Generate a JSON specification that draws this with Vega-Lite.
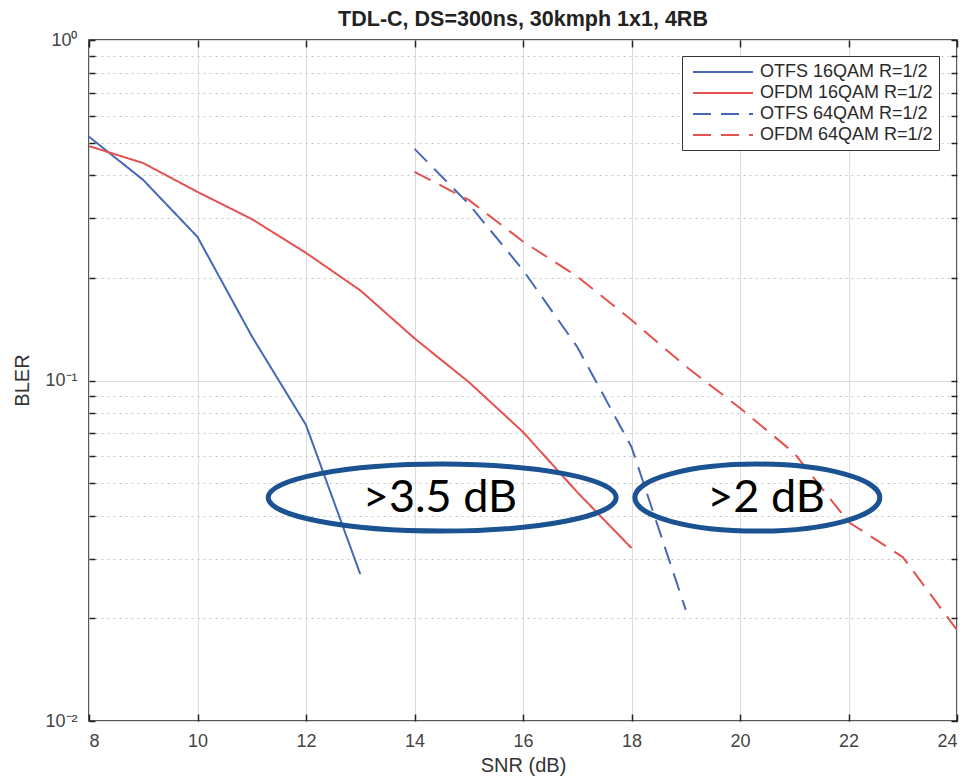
{
  "$schema": "https://vega.github.io/schema/vega-lite/v6.json",
  "width": 868,
  "height": 681,
  "autosize": {"type": "none"},
  "padding": {"left": 89, "top": 40, "right": 16, "bottom": 60},
  "background": "white",
  "title": {"text": "TDL-C, DS=300ns, 30kmph 1x1, 4RB", "fontSize": 21.5, "fontWeight": "bold", "font": "Liberation Sans", "color": "#222", "offset": 12, "dy": 11, "anchor": "middle"},
  "config": {
    "view": {"stroke": "#222", "strokeWidth": 1.5},
    "axis": {"labelFont": "Liberation Sans", "labelFontSize": 18, "labelColor": "#444", "titleFont": "Liberation Sans", "titleFontSize": 20, "titleFontWeight": "normal", "titleColor": "#333", "tickColor": "#222", "tickWidth": 1.5, "domain": false, "gridColor": "#dcdcdc", "gridWidth": 1},
    "legend": {"orient": "none", "legendX": 593, "legendY": 16, "labelFont": "Liberation Sans", "labelFontSize": 18, "labelColor": "#2a2a2a", "labelLimit": 400, "symbolType": "M-3.333,0L3.333,0", "symbolSize": 324, "symbolStrokeWidth": 2, "strokeColor": "#333", "fillColor": "white", "padding": 6, "rowPadding": 2, "labelOffset": 27, "symbolOffset": 25}
  },
  "datasets": {
    "curves": [
      {"series": "OTFS 16QAM R=1/2", "snr": 8, "bler": 0.52},
      {"series": "OTFS 16QAM R=1/2", "snr": 9, "bler": 0.388},
      {"series": "OTFS 16QAM R=1/2", "snr": 10, "bler": 0.264},
      {"series": "OTFS 16QAM R=1/2", "snr": 11, "bler": 0.135},
      {"series": "OTFS 16QAM R=1/2", "snr": 12, "bler": 0.074},
      {"series": "OTFS 16QAM R=1/2", "snr": 13, "bler": 0.027},
      {"series": "OFDM 16QAM R=1/2", "snr": 8, "bler": 0.488},
      {"series": "OFDM 16QAM R=1/2", "snr": 9, "bler": 0.435},
      {"series": "OFDM 16QAM R=1/2", "snr": 10, "bler": 0.358},
      {"series": "OFDM 16QAM R=1/2", "snr": 11, "bler": 0.298},
      {"series": "OFDM 16QAM R=1/2", "snr": 12, "bler": 0.237},
      {"series": "OFDM 16QAM R=1/2", "snr": 13, "bler": 0.184},
      {"series": "OFDM 16QAM R=1/2", "snr": 14, "bler": 0.133},
      {"series": "OFDM 16QAM R=1/2", "snr": 15, "bler": 0.099},
      {"series": "OFDM 16QAM R=1/2", "snr": 16, "bler": 0.0706},
      {"series": "OFDM 16QAM R=1/2", "snr": 17, "bler": 0.047},
      {"series": "OFDM 16QAM R=1/2", "snr": 18, "bler": 0.0322},
      {"series": "OTFS 64QAM R=1/2", "snr": 14, "bler": 0.479},
      {"series": "OTFS 64QAM R=1/2", "snr": 15, "bler": 0.33},
      {"series": "OTFS 64QAM R=1/2", "snr": 16, "bler": 0.211},
      {"series": "OTFS 64QAM R=1/2", "snr": 17, "bler": 0.1255},
      {"series": "OTFS 64QAM R=1/2", "snr": 18, "bler": 0.0638},
      {"series": "OTFS 64QAM R=1/2", "snr": 19, "bler": 0.0212},
      {"series": "OFDM 64QAM R=1/2", "snr": 14, "bler": 0.41},
      {"series": "OFDM 64QAM R=1/2", "snr": 15, "bler": 0.339},
      {"series": "OFDM 64QAM R=1/2", "snr": 16, "bler": 0.256},
      {"series": "OFDM 64QAM R=1/2", "snr": 17, "bler": 0.202},
      {"series": "OFDM 64QAM R=1/2", "snr": 18, "bler": 0.1506},
      {"series": "OFDM 64QAM R=1/2", "snr": 19, "bler": 0.11},
      {"series": "OFDM 64QAM R=1/2", "snr": 20, "bler": 0.083},
      {"series": "OFDM 64QAM R=1/2", "snr": 21, "bler": 0.0612},
      {"series": "OFDM 64QAM R=1/2", "snr": 22, "bler": 0.0384},
      {"series": "OFDM 64QAM R=1/2", "snr": 23, "bler": 0.0303},
      {"series": "OFDM 64QAM R=1/2", "snr": 24, "bler": 0.0185}
    ],
    "notes": [
      {"label": ">3.5 dB", "ex": 14.51, "tx": 14.47, "bler": 0.0453},
      {"label": ">2 dB", "ex": 20.32, "tx": 20.48, "bler": 0.0453}
    ]
  },
  "layer": [
    {
      "data": {"name": "curves"},
      "mark": {"type": "line", "strokeWidth": 2, "clip": true},
      "encoding": {
        "x": {"field": "snr", "type": "quantitative", "scale": {"domain": [8, 24], "nice": false, "zero": false},
          "axis": {"orient": "bottom", "values": [8, 10, 12, 14, 16, 18, 20, 22, 24], "grid": true, "tickSize": -7, "labelPadding": 18, "title": "SNR (dB)", "titleX": 434, "titleY": 44, "titleBaseline": "middle"}},
        "y": {"field": "bler", "type": "quantitative", "scale": {"type": "log", "domain": [0.01, 1], "nice": false},
          "axis": {"orient": "left", "values": [0.01, 0.02, 0.03, 0.04, 0.05, 0.06, 0.07, 0.08, 0.09, 0.1, 0.2, 0.3, 0.4, 0.5, 0.6, 0.7, 0.8, 0.9, 1],
            "labelExpr": "abs(datum.value-1)<1e-9 ? '10⁰' : abs(datum.value-0.1)<1e-9 ? '10⁻¹' : abs(datum.value-0.01)<1e-9 ? '10⁻²' : ''",
            "grid": true,
            "gridDash": {"condition": {"test": "abs(log(datum.value)/LN10 - round(log(datum.value)/LN10)) < 0.001", "value": []}, "value": [2, 4]},
            "gridColor": {"condition": {"test": "abs(log(datum.value)/LN10 - round(log(datum.value)/LN10)) < 0.001", "value": "#dcdcdc"}, "value": "#c4c4c4"},
            "tickSize": -6, "labelPadding": 18, "title": "BLER", "titleX": -67, "titleY": 340, "titleBaseline": "middle"}},
        "color": {"field": "series", "type": "nominal", "scale": {"domain": ["OTFS 16QAM R=1/2", "OFDM 16QAM R=1/2", "OTFS 64QAM R=1/2", "OFDM 64QAM R=1/2"], "range": ["#4767b7", "#e3524e", "#4767b7", "#e3524e"]}, "legend": {"title": null}},
        "strokeDash": {"field": "series", "type": "nominal", "scale": {"domain": ["OTFS 16QAM R=1/2", "OFDM 16QAM R=1/2", "OTFS 64QAM R=1/2", "OFDM 64QAM R=1/2"], "range": [[1, 0], [1, 0], [18, 10], [18, 10]]}, "legend": {"title": null}}
      }
    },
    {
      "data": {"name": "notes"},
      "mark": {"type": "point", "filled": false, "strokeWidth": 5, "color": "#1b5292", "opacity": 1},
      "encoding": {
        "x": {"field": "ex", "type": "quantitative", "axis": {"orient": "top", "values": [8, 10, 12, 14, 16, 18, 20, 22, 24], "labels": false, "grid": false, "tickSize": -7, "title": null}},
        "y": {"field": "bler", "type": "quantitative", "axis": {"orient": "right", "values": [0.01, 0.02, 0.03, 0.04, 0.05, 0.06, 0.07, 0.08, 0.09, 0.1, 0.2, 0.3, 0.4, 0.5, 0.6, 0.7, 0.8, 0.9, 1], "labels": false, "grid": false, "tickSize": -6, "title": null}},
        "shape": {"field": "label", "type": "nominal", "scale": {"domain": [">3.5 dB", ">2 dB"], "range": ["M-1,0A1,0.1925,0,1,1,1,0A1,0.1925,0,1,1,-1,0Z", "M-1,0A1,0.2735,0,1,1,1,0A1,0.2735,0,1,1,-1,0Z"]}, "legend": null},
        "size": {"field": "label", "type": "ordinal", "scale": {"domain": [">3.5 dB", ">2 dB"], "range": [121104, 60025]}, "legend": null}
      }
    },
    {
      "data": {"name": "notes"},
      "mark": {"type": "text", "font": "Lato", "fontSize": 45, "color": "black", "baseline": "middle", "align": "center"},
      "encoding": {
        "x": {"field": "tx", "type": "quantitative", "axis": null},
        "y": {"field": "bler", "type": "quantitative", "axis": null},
        "text": {"field": "label"}
      }
    }
  ],
  "resolve": {"axis": {"x": "independent", "y": "independent"}}
}
